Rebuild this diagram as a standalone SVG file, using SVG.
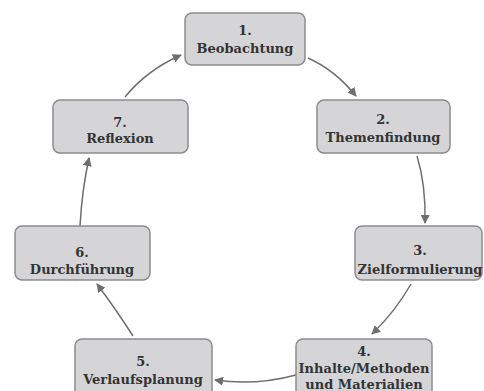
<svg xmlns="http://www.w3.org/2000/svg" width="484" height="391" viewBox="0 0 484 391">
<defs>
<marker id="ah" viewBox="0 0 10 10" refX="9" refY="5" markerWidth="9" markerHeight="9" markerUnits="userSpaceOnUse" orient="auto">
<path d="M0,0 L10,5 L0,10 z" fill="#6e6e6e"/>
</marker>
<style>
.box{fill:#d5d5d7;stroke:#8c8c8c;stroke-width:1.5}
.t{font-family:"DejaVu Serif","Liberation Serif",serif;font-weight:bold;font-size:13px;fill:#333;text-anchor:middle}
.c{fill:none;stroke:#6e6e6e;stroke-width:1.5;marker-end:url(#ah)}
</style>
</defs>
<rect width="484" height="391" fill="#fff"/>
<g id="connectors">
<path class="c" d="M308,58 Q335,70 356,96"/>
<path class="c" d="M417,156 Q426,185 425,223"/>
<path class="c" d="M411,284 Q395,312 372,334"/>
<path class="c" d="M296,375 Q255,386 215,380"/>
<path class="c" d="M133,336 Q115,308 97,284"/>
<path class="c" d="M80,226 Q82,190 89,158"/>
<path class="c" d="M125,97 Q147,70 181,55"/>
</g>
<g id="n1"><rect class="box" x="185" y="13" width="120" height="52" rx="7"/><text class="t" x="245" y="35">1.</text><text class="t" x="245" y="53">Beobachtung</text></g>
<g id="n2"><rect class="box" x="317" y="100" width="133" height="53" rx="7"/><text class="t" x="383" y="124">2.</text><text class="t" x="383" y="142">Themenfindung</text></g>
<g id="n3"><rect class="box" x="355" y="226" width="127" height="54" rx="7"/><text class="t" x="420" y="255">3.</text><text class="t" x="420" y="274">Zielformulierung</text></g>
<g id="n4"><rect class="box" x="296" y="339" width="136" height="60" rx="7"/><text class="t" x="364" y="356">4.</text><text class="t" x="364" y="373">Inhalte/Methoden</text><text class="t" x="364" y="389">und Materialien</text></g>
<g id="n5"><rect class="box" x="75" y="339" width="137" height="60" rx="7"/><text class="t" x="143" y="366">5.</text><text class="t" x="143" y="384">Verlaufsplanung</text></g>
<g id="n6"><rect class="box" x="15" y="226" width="135" height="54" rx="7"/><text class="t" x="82" y="257">6.</text><text class="t" x="82" y="274">Durchführung</text></g>
<g id="n7"><rect class="box" x="53" y="100" width="135" height="53" rx="7"/><text class="t" x="120" y="127">7.</text><text class="t" x="120" y="143">Reflexion</text></g>
</svg>
